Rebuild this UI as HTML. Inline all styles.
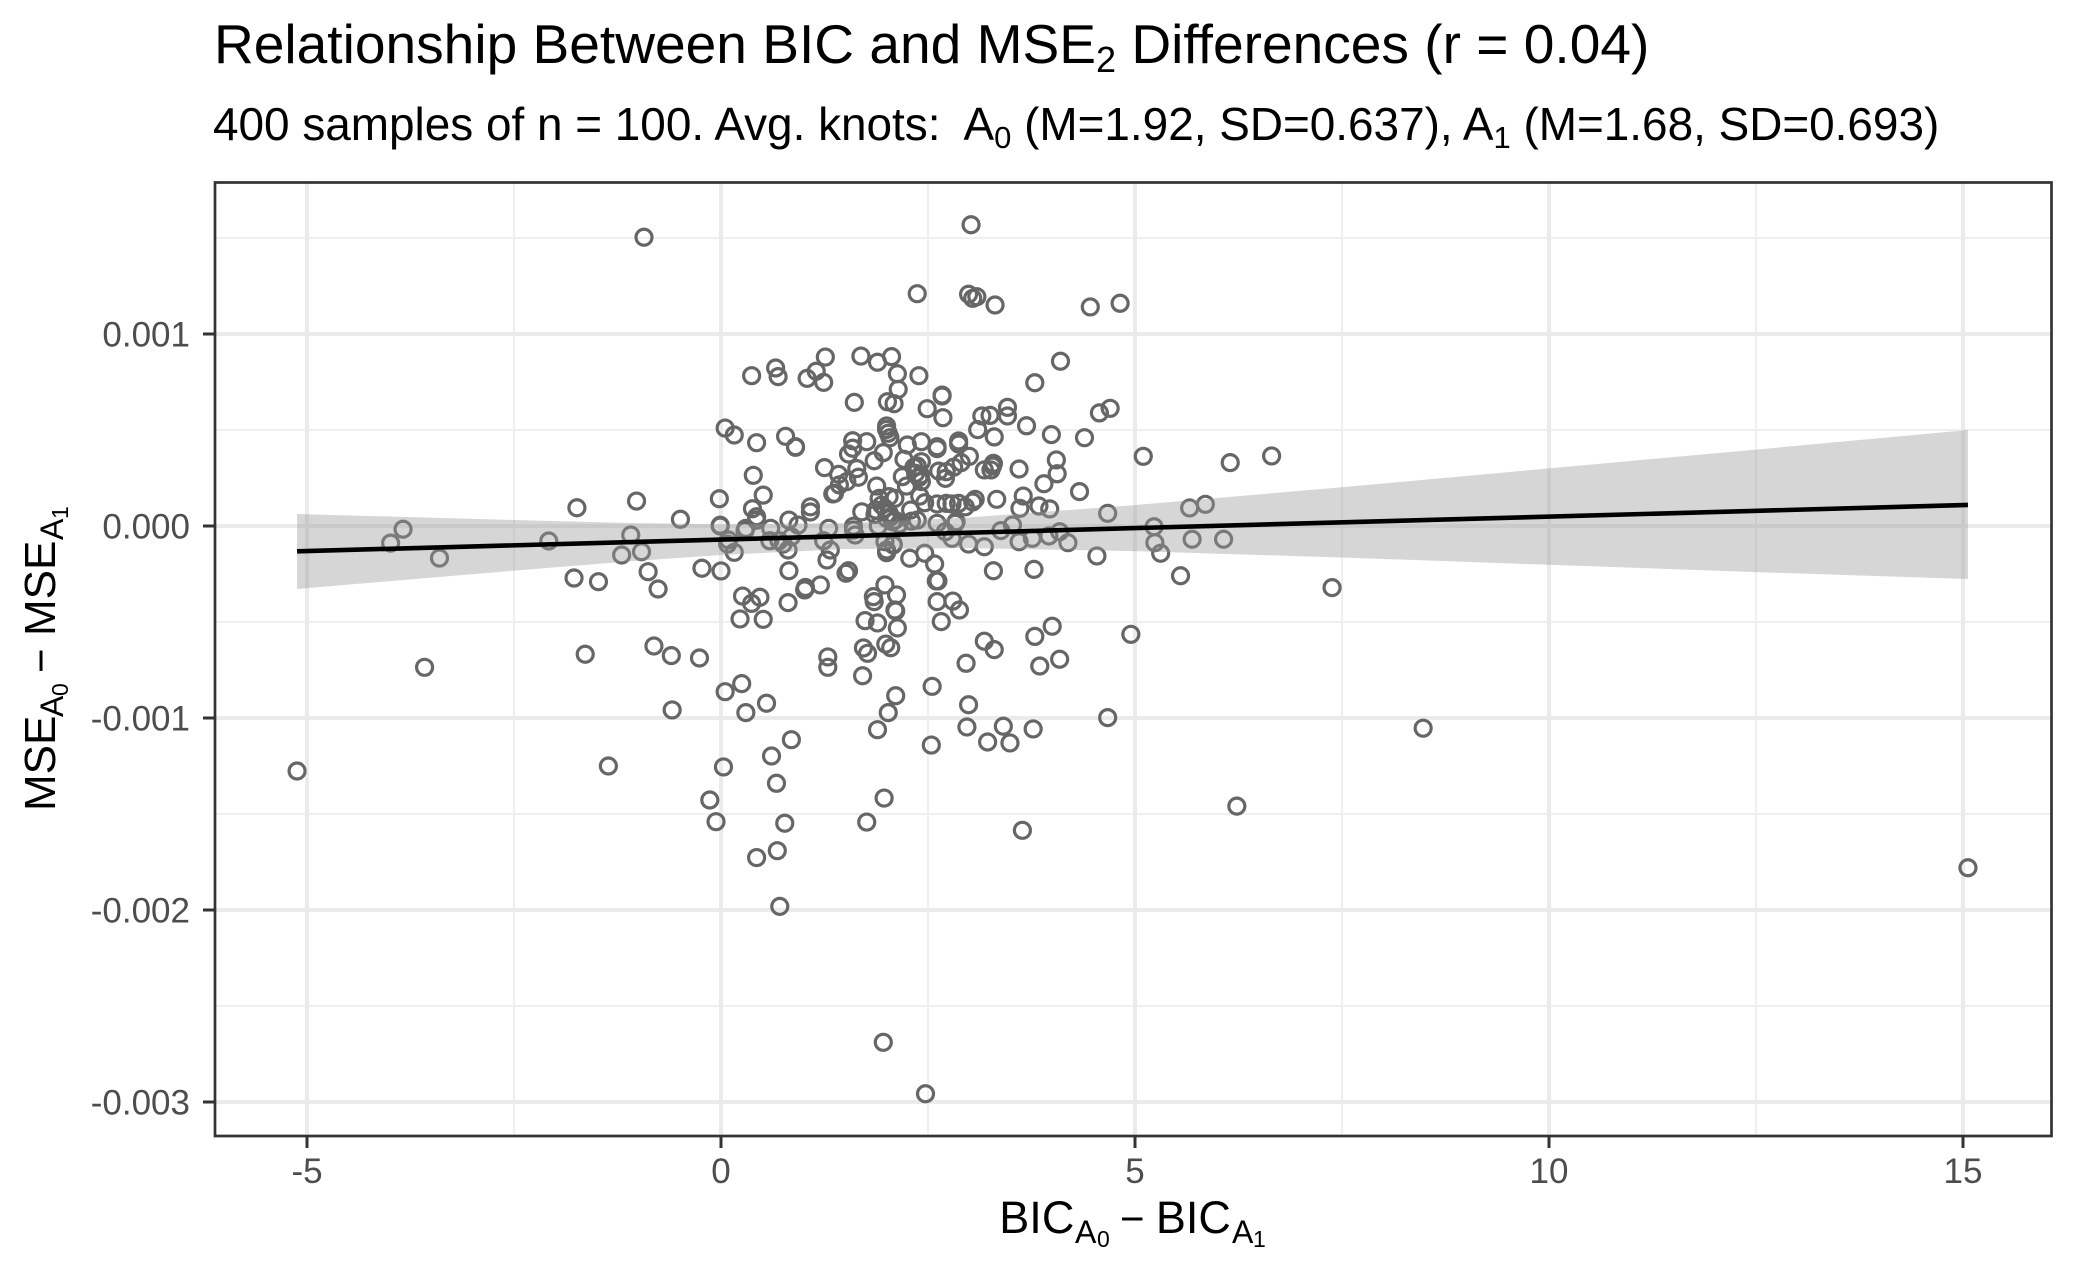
<!DOCTYPE html>
<html lang="en">
<head>
<meta charset="utf-8">
<title>Relationship Between BIC and MSE2 Differences</title>
<style>
html,body{margin:0;padding:0;background:#fff;}
svg{display:block;font-family:"Liberation Sans",Arial,sans-serif;}
</style>
</head>
<body>
<svg id="chart" xmlns="http://www.w3.org/2000/svg" width="2075" height="1280" viewBox="0 0 2075 1280">
<rect x="0" y="0" width="2075" height="1280" fill="#fff"/>
<text x="214" y="63" font-size="55.1" fill="#000">Relationship Between BIC and MSE<tspan font-size="36" dy="9">2</tspan><tspan dy="-9"> Differences (r = 0.04)</tspan></text>
<text x="213" y="140" font-size="45.9" fill="#000">400 samples of n = 100. Avg. knots:&#160; A<tspan font-size="31" dy="8">0</tspan><tspan dy="-8"> (M=1.92, SD=0.637), A</tspan><tspan font-size="31" dy="8">1</tspan><tspan dy="-8"> (M=1.68, SD=0.693)</tspan></text>
<g id="grid"></g>
<g id="points"></g>
<g id="fit"></g>
<rect x="215" y="182.5" width="1836.5" height="953.5" fill="none" stroke="#333" stroke-width="2.7"/>
<g id="axes"></g>
<g fill="#000">
<text x="999.3" y="1233" font-size="45">BIC</text>
<text x="1075" y="1243" font-size="32">A</text>
<text x="1097" y="1247" font-size="23">0</text>
<text x="1120" y="1233" font-size="42">−</text>
<text x="1155.9" y="1233" font-size="45">BIC</text>
<text x="1232" y="1243" font-size="32">A</text>
<text x="1253" y="1247" font-size="23">1</text>
</g>
<g fill="#000" transform="translate(55,810) rotate(-90)">
<text x="-1" y="0" font-size="44">MSE</text>
<text x="93" y="8" font-size="32">A</text>
<text x="114" y="13" font-size="23">0</text>
<text x="137" y="0" font-size="42">−</text>
<text x="174" y="0" font-size="44">MSE</text>
<text x="270" y="8" font-size="32">A</text>
<text x="291" y="13" font-size="23">1</text>
</g>
</svg>
<script>
// Axis ticks (BIC difference, MSE difference in units of 0.001)
const xMajorTicks = [-5, 0, 5, 10, 15];
const xMinorTicks = [-2.5, 2.5, 7.5, 12.5];
const xTickLabels = ["-5", "0", "5", "10", "15"];
const yMajorTicks = [1, 0, -1, -2, -3];
const yMinorTicks = [1.5, 0.5, -0.5, -1.5, -2.5];
const yTickLabels = ["0.001", "0.000", "-0.001", "-0.002", "-0.003"];

// Scatter values
const bicDiff = [
-0.93,3.02,2.37,2.99,3.09,3.04,3.31,4.46,4.82,0.37,
0.66,0.69,1.04,1.15,1.24,1.26,1.69,1.89,2.06,2.13,
2.14,2.39,4.10,3.79,1.61,2.01,2.09,2.67,2.67,2.49,
2.68,3.15,3.25,3.46,3.46,4.57,4.70,3.69,3.10,3.30,
3.99,4.39,0.05,0.16,0.43,0.78,0.90,0.90,2.0,2.0,
2.02,2.04,1.59,1.76,1.59,1.54,1.96,1.85,2.25,2.42,
2.61,2.61,2.87,2.87,3.0,2.21,2.42,1.25,1.42,1.64,
1.66,1.52,1.43,1.37,1.35,3.60,4.05,4.06,3.90,4.33,
5.10,3.18,3.26,3.29,3.28,2.63,2.72,2.81,2.90,2.71,
2.19,2.33,2.37,2.35,2.41,2.42,2.39,2.24,1.88,0.39,
0.51,-0.02,-1.02,1.08,1.08,0.38,0.43,0.43,-0.49,0.82,
0.93,1.70,1.91,2.03,1.94,2.10,1.87,1.98,2.03,2.05,
2.0,2.10,2.07,2.40,2.46,2.61,2.72,2.79,2.87,2.95,
3.04,3.07,2.29,2.37,2.61,2.84,3.33,3.65,3.61,3.84,
3.97,4.67,-1.09,-1.20,-0.96,-0.88,-0.76,-0.23,0,-0.01,
-0.01,0.09,0.08,0.16,0.30,0.29,0.60,0.59,0.70,0.75,
0.81,0.85,0.82,1.30,1.24,1.32,1.28,1.60,1.62,1.54,
1.51,1.90,1.98,2.08,2.0,1.20,1.02,1.02,1.01,0.26,
0.47,0.37,0.81,1.98,1.84,1.85,2.12,2.28,2.46,2.58,
2.60,2.62,2.61,2.61,2.80,2.88,2.10,3.29,3.78,4.54,
4.19,4.09,3.96,3.76,3.60,3.38,3.52,3.18,2.99,2.79,
2.71,2.83,2.30,2.0,2.08,5.23,5.24,5.31,6.15,6.65,
5.66,5.85,5.69,6.07,5.55,7.38,0.23,0.51,2.11,1.74,
1.89,2.13,2.66,3.18,3.30,3.79,4.0,4.09,3.85,2.96,
4.95,-0.81,-0.60,-0.26,1.29,1.29,1.72,1.77,1.99,2.05,
1.71,2.11,2.02,1.89,2.55,2.99,2.97,3.41,3.22,3.49,
3.77,2.54,4.67,0.25,0.05,0.30,0.55,-0.59,0.85,0.61,
0.03,-1.36,0.67,-0.135,-0.06,0.77,1.97,1.76,3.64,0.68,
0.43,0.71,-5.12,-3.58,-1.64,-3.84,-3.99,-3.40,-2.08,-1.74,
-1.775,-1.48,8.48,6.23,15.06,1.96,2.47,1.60,1.86,2.15
];
const mseDiff = [
1.504,1.569,1.21,1.207,1.194,1.186,1.151,1.141,1.16,0.783,
0.823,0.778,0.769,0.806,0.748,0.88,0.885,0.853,0.882,0.793,
0.712,0.783,0.858,0.746,0.644,0.647,0.637,0.682,0.677,0.611,
0.564,0.573,0.576,0.618,0.573,0.589,0.613,0.522,0.502,0.464,
0.476,0.46,0.51,0.474,0.434,0.467,0.413,0.41,0.521,0.503,
0.483,0.46,0.444,0.439,0.405,0.375,0.382,0.34,0.422,0.439,
0.413,0.403,0.443,0.427,0.363,0.347,0.335,0.304,0.269,0.299,
0.254,0.231,0.214,0.17,0.167,0.297,0.344,0.272,0.22,0.179,
0.363,0.292,0.292,0.326,0.3125,0.286,0.283,0.306,0.33,0.248,
0.257,0.306,0.3125,0.274,0.266,0.231,0.252,0.208,0.208,0.264,
0.161,0.142,0.13,0.10,0.073,0.09,0.048,0.03,0.035,0.031,
0.005,0.074,0.144,0.153,0.109,0.144,0.083,0.092,0.066,0.048,
0.04,0.031,0.022,0.156,0.121,0.115,0.118,0.115,0.118,0.10,
0.125,0.139,0.083,0.031,0.014,0.022,0.139,0.156,0.092,0.104,
0.089,0.066,-0.047,-0.151,-0.134,-0.238,-0.328,-0.22,-0.234,0,
0.004,-0.073,-0.094,-0.137,-0.012,-0.024,-0.012,-0.077,-0.077,-0.094,
-0.125,-0.056,-0.233,-0.012,-0.077,-0.125,-0.177,-0.021,-0.047,-0.233,
-0.246,0,-0.082,-0.094,-0.139,-0.307,-0.325,-0.32,-0.333,-0.365,
-0.371,-0.403,-0.399,-0.307,-0.368,-0.394,-0.359,-0.168,-0.142,-0.198,
-0.286,-0.286,-0.286,-0.394,-0.391,-0.4375,-0.4375,-0.233,-0.226,-0.156,
-0.087,-0.03,-0.052,-0.064,-0.082,-0.024,0.005,-0.108,-0.094,-0.064,
-0.03,0.014,0.025,-0.125,-0.099,-0.004,-0.087,-0.142,0.33,0.365,
0.094,0.113,-0.069,-0.069,-0.259,-0.321,-0.484,-0.486,-0.443,-0.493,
-0.505,-0.531,-0.498,-0.60,-0.644,-0.575,-0.522,-0.694,-0.729,-0.715,
-0.564,-0.625,-0.675,-0.6875,-0.682,-0.736,-0.635,-0.663,-0.615,-0.634,
-0.78,-0.884,-0.972,-1.061,-0.835,-0.931,-1.047,-1.043,-1.125,-1.13,
-1.057,-1.141,-0.998,-0.821,-0.863,-0.972,-0.923,-0.958,-1.113,-1.198,
-1.255,-1.25,-1.34,-1.427,-1.54,-1.548,-1.417,-1.542,-1.585,-1.691,
-1.727,-1.981,-1.276,-0.736,-0.668,-0.017,-0.089,-0.167,-0.078,0.095,
-0.271,-0.29,-1.053,-1.459,-1.78,-2.689,-2.957,-0.001,0.06,0.01
];

// Regression fit and confidence band
const fitX = [-5.12, 15.06];
const fitY = [-0.132, 0.1095];
const bandX = [-5.12, -2.5, -1, 0, 1.5, 3, 5, 7.5, 10, 12.5, 15.06];
const bandHigh = [0.0625, 0.0315, 0.015, 0.009, 0.015, 0.045, 0.109, 0.202, 0.300, 0.398, 0.500];
const bandLow = [-0.328, -0.2325, -0.181, -0.151, -0.120, -0.115, -0.131, -0.164, -0.202, -0.240, -0.276];

const SVG_NS = "http://www.w3.org/2000/svg";
const xScale = v => 721 + 82.8 * v;
const yScale = v => 526 - 192 * v;
const panel = { left: 215, right: 2051.5, top: 182.5, bottom: 1136 };

function svgEl(tag, parent, props) {
  const el = document.createElementNS(SVG_NS, tag);
  for (const k in props) el.setAttribute(k, props[k]);
  parent.appendChild(el);
  return el;
}

const grid = document.getElementById("grid");
const pointsLayer = document.getElementById("points");
const fitLayer = document.getElementById("fit");
const axes = document.getElementById("axes");

yMinorTicks.forEach(v => {
  const l = svgEl("line", grid, { x1: panel.left, x2: panel.right, y1: yScale(v), y2: yScale(v), stroke: "#efefef", "stroke-width": 2 });
  
  
});
xMinorTicks.forEach(v => {
  const l = svgEl("line", grid, { x1: xScale(v), x2: xScale(v), y1: panel.top, y2: panel.bottom, stroke: "#efefef", "stroke-width": 2 });
  
  
});
yMajorTicks.forEach(v => {
  const l = svgEl("line", grid, { x1: panel.left, x2: panel.right, y1: yScale(v), y2: yScale(v), stroke: "#ebebeb", "stroke-width": 4 });
  
  
});
xMajorTicks.forEach(v => {
  const l = svgEl("line", grid, { x1: xScale(v), x2: xScale(v), y1: panel.top, y2: panel.bottom, stroke: "#ebebeb", "stroke-width": 4 });
  
  
});

bicDiff.forEach((x, i) => {
  const c = svgEl("circle", pointsLayer, { cx: xScale(x), cy: yScale(mseDiff[i]), r: 8, fill: "none", stroke: "#666", "stroke-width": 3.2 });
  
  
});

const upperPath = bandX.map((x, i) => xScale(x) + "," + yScale(bandHigh[i]));
const lowerPath = bandX.map((x, i) => xScale(x) + "," + yScale(bandLow[i])).reverse();
const band = svgEl("polygon", fitLayer, { points: upperPath.concat(lowerPath).join(" "), fill: "#999", "fill-opacity": 0.4 });



const fitLine = svgEl("line", fitLayer, { x1: xScale(fitX[0]), y1: yScale(fitY[0]), x2: xScale(fitX[1]), y2: yScale(fitY[1]), stroke: "#000", "stroke-width": 4.6 });



xMajorTicks.forEach((v, i) => {
  const t = svgEl("line", axes, { x1: xScale(v), x2: xScale(v), y1: panel.bottom, y2: panel.bottom + 12, stroke: "#333", "stroke-width": 3 });
  
  
  const lab = svgEl("text", axes, { x: xScale(v), y: 1183, "text-anchor": "middle", "font-size": 35, fill: "#4d4d4d" });
  lab.textContent = xTickLabels[i];
  
  
});
yMajorTicks.forEach((v, i) => {
  const t = svgEl("line", axes, { x1: panel.left - 12, x2: panel.left, y1: yScale(v), y2: yScale(v), stroke: "#333", "stroke-width": 3 });
  
  
  const lab = svgEl("text", axes, { x: 190, y: yScale(v) + 12.5, "text-anchor": "end", "font-size": 35, fill: "#4d4d4d" });
  lab.textContent = yTickLabels[i];
  
  
});
</script>
</body>
</html>
